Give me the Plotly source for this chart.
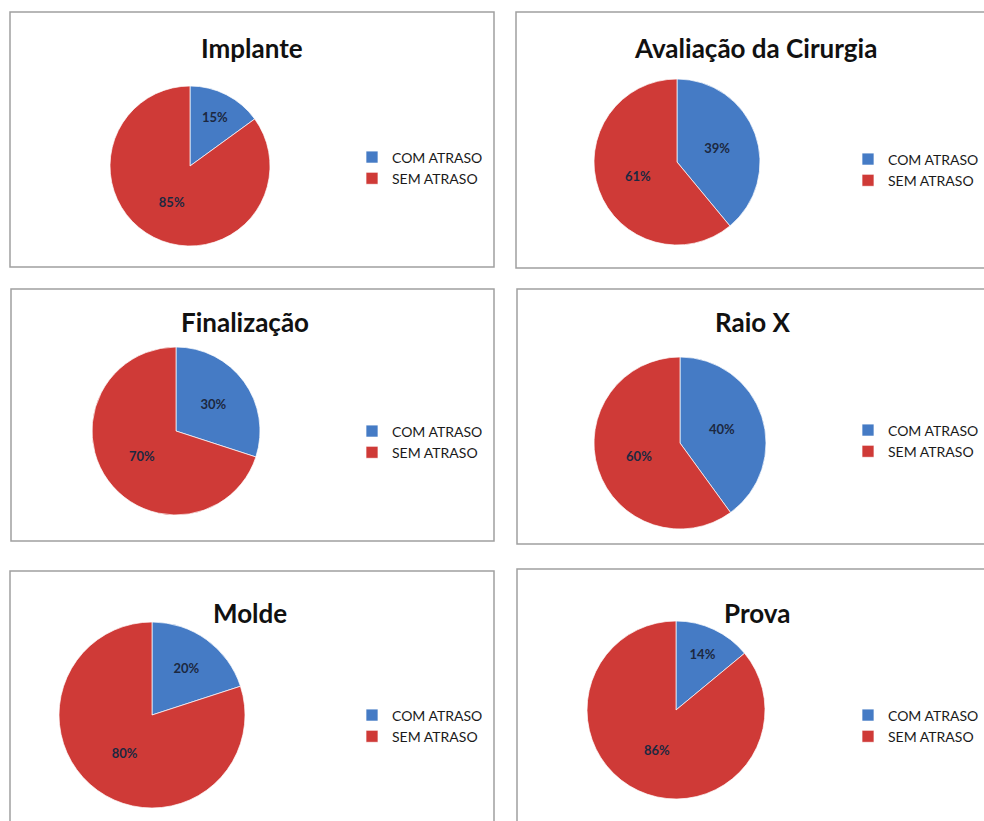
import plotly.graph_objects as go

W, H = 984, 821

titles = ["Implante", "Avaliação da Cirurgia", "Finalização", "Raio X", "Molde", "Prova"]
labels = ["COM ATRASO", "SEM ATRASO"]
com_atraso = [15, 39, 30, 40, 20, 14]
sem_atraso = [85, 61, 70, 60, 80, 86]

# layout (pixel geometry of each panel)
panels = [  # x0, y0, x1, y1 of border box
    (10, 12, 494, 267), (516, 12, 990, 268),
    (11, 289, 494, 541), (517, 289, 990, 544),
    (10, 571, 494, 830), (517, 569, 990, 830),
]
pie_geo = [  # cx, cy, r
    (190, 166, 80), (677, 162, 83),
    (176, 431, 84), (680, 443, 86),
    (152, 715, 93), (676, 710, 89),
]
title_y = [48, 48, 322, 322, 613, 613]
title_x = [252, 755, 245, 753, 250, 757]
legend_y = [168, 170, 442, 441, 726, 726]
legend_x = [352, 848, 352, 848, 352, 848]

blue = "#457bc5"
red = "#cf3a37"

fig = go.Figure()
layout_extra = {}
for i in range(6):
    cx, cy, r = pie_geo[i]
    lname = "legend" if i == 0 else f"legend{i+1}"
    # invisible zero-width suffix keeps each chart's legend entries separate
    lbls = [lab + "\u200b" * i for lab in labels]
    fig.add_trace(go.Pie(
        labels=lbls,
        values=[com_atraso[i], sem_atraso[i]],
        domain=dict(x=[(cx - r) / W, (cx + r) / W], y=[1 - (cy + r) / H, 1 - (cy - r) / H]),
        direction="clockwise", sort=False, rotation=0,
        textinfo="percent", textposition="inside", insidetextorientation="horizontal",
        textfont=dict(family="Lato", size=13, color="#1c2840", weight="bold"),
        marker=dict(colors=[blue, red], line=dict(color="rgba(255,255,255,0.7)", width=1)),
        legend=lname, showlegend=True, hoverinfo="label+percent",
    ))
    layout_extra[lname] = dict(
        x=legend_x[i] / W, y=1 - legend_y[i] / H, xanchor="left", yanchor="middle",
        font=dict(family="Lato", size=14, color="#1a1a1a"),
        bgcolor="rgba(0,0,0,0)", itemwidth=30, tracegroupgap=0,
    )

shapes = []
for (x0, y0, x1, y1) in panels:
    shapes.append(dict(type="rect", xref="paper", yref="paper",
                       x0=x0 / W, x1=x1 / W, y0=1 - y1 / H, y1=1 - y0 / H,
                       line=dict(color="#a0a0a0", width=1.5), fillcolor="rgba(0,0,0,0)", layer="below"))

annotations = []
for i, t in enumerate(titles):
    annotations.append(dict(text=f"<b>{t}</b>", x=title_x[i] / W, y=1 - title_y[i] / H,
                            xref="paper", yref="paper", xanchor="center", yanchor="middle",
                            showarrow=False, font=dict(family="Lato", size=26, color="#111111")))

fig.update_layout(
    width=W, height=H, margin=dict(l=0, r=0, t=0, b=0),
    paper_bgcolor="white", plot_bgcolor="white",
    shapes=shapes, annotations=annotations,
    **layout_extra,
)

fig.write_html("out.html")
